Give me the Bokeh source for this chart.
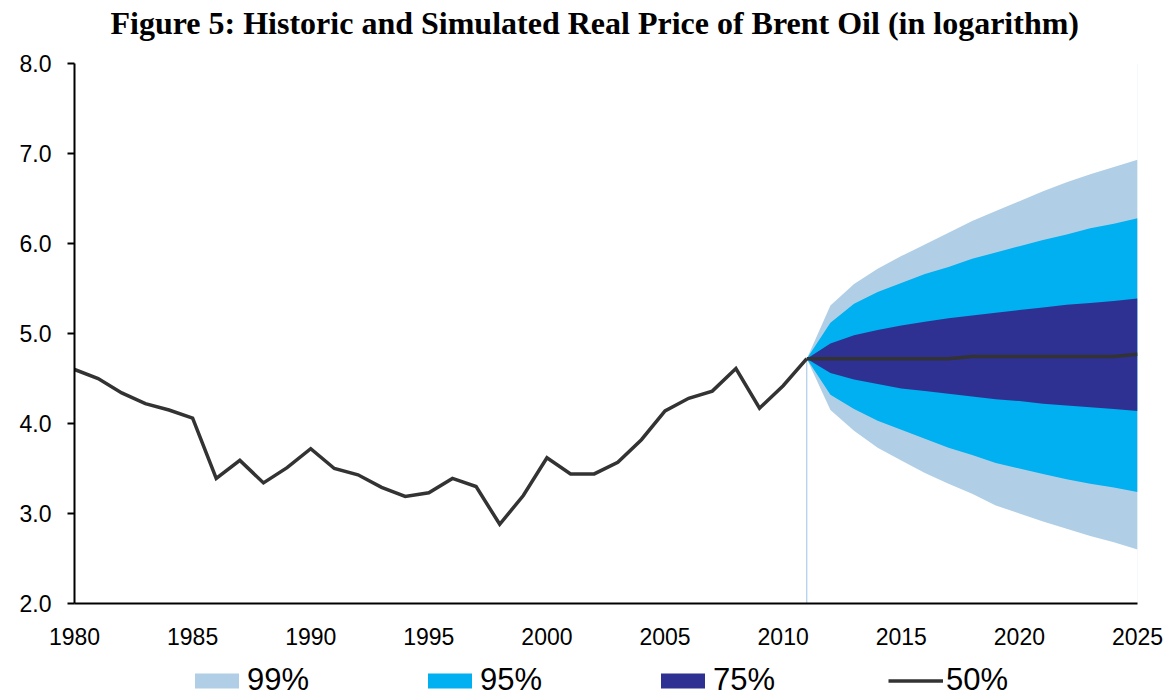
from bokeh.plotting import figure
from bokeh.layouts import column
from bokeh.models import Range1d, FixedTicker, Legend, LegendItem, NumeralTickFormatter, Label
from bokeh.embed import file_html
from bokeh.resources import INLINE

# ---- data ----
hist_years = [1980, 1981, 1982, 1983, 1984, 1985, 1986, 1987, 1988, 1989,
              1990, 1991, 1992, 1993, 1994, 1995, 1996, 1997, 1998, 1999,
              2000, 2001, 2002, 2003, 2004, 2005, 2006, 2007, 2008, 2009,
              2010, 2011]
hist_values = [4.60, 4.50, 4.34, 4.22, 4.15, 4.06, 3.39, 3.59, 3.34, 3.51,
               3.72, 3.50, 3.43, 3.29, 3.19, 3.23, 3.39, 3.30, 2.88, 3.20,
               3.62, 3.44, 3.44, 3.57, 3.82, 4.14, 4.28, 4.36, 4.61, 4.17,
               4.42, 4.72]

fc_years = [2011, 2012, 2013, 2014, 2015, 2016, 2017, 2018, 2019, 2020,
            2021, 2022, 2023, 2024, 2025]
median = [4.72, 4.72, 4.72, 4.72, 4.72, 4.72, 4.72, 4.745, 4.745, 4.745,
          4.745, 4.745, 4.745, 4.745, 4.77]
p99_hi = [4.72, 5.31, 5.55, 5.72, 5.86, 5.99, 6.12, 6.25, 6.36, 6.47, 6.58, 6.68, 6.77, 6.85, 6.93]
p95_hi = [4.72, 5.12, 5.33, 5.46, 5.56, 5.66, 5.74, 5.83, 5.90, 5.97, 6.04, 6.10, 6.17, 6.22, 6.28]
p75_hi = [4.72, 4.89, 4.98, 5.04, 5.09, 5.13, 5.17, 5.20, 5.23, 5.26, 5.29, 5.32, 5.34, 5.36, 5.39]
p75_lo = [4.72, 4.56, 4.49, 4.44, 4.39, 4.36, 4.33, 4.30, 4.27, 4.25, 4.22, 4.20, 4.18, 4.16, 4.14]
p95_lo = [4.72, 4.32, 4.16, 4.03, 3.93, 3.83, 3.73, 3.65, 3.56, 3.50, 3.44, 3.38, 3.33, 3.29, 3.24]
p99_lo = [4.72, 4.15, 3.92, 3.73, 3.59, 3.45, 3.33, 3.22, 3.09, 3.00, 2.91, 2.83, 2.75, 2.68, 2.60]

x_ticks = [1980, 1985, 1990, 1995, 2000, 2005, 2010, 2015, 2020, 2025]
y_ticks = [2, 3, 4, 5, 6, 7, 8]
legend_labels = ["99%", "95%", "75%", "50%"]
title_text = "Figure 5: Historic and Simulated Real Price of Brent Oil (in logarithm)"

C99 = "#B0CFE6"
C95 = "#00B0F0"
C75 = "#2E3192"
CMED = "#333333"
CVLINE = "#9DC3E6"
CEDGE = "#EDF3F9"

# ---- title strip ----
pt = figure(width=1166, height=48, output_backend="svg", toolbar_location=None,
            x_axis_type=None, y_axis_type=None, min_border=0,
            x_range=Range1d(0, 1), y_range=Range1d(0, 1))
pt.outline_line_color = None
pt.grid.visible = False
pt.add_layout(Label(x=36, y=26, x_units="screen", y_units="screen", text=title_text,
                    text_font="Liberation Serif", text_font_style="bold",
                    text_font_size="32px", text_color="black",
                    text_align="left", text_baseline="middle"))

# ---- main chart ----
p = figure(frame_width=1063, frame_height=540, output_backend="svg",
           toolbar_location=None, x_range=Range1d(1980, 2025), y_range=Range1d(2, 8),
           min_border_left=74, min_border_right=29, min_border_top=15, min_border_bottom=57)
p.outline_line_color = None
p.xgrid.visible = False
p.ygrid.visible = False

# faint right edge of the plot area
p.segment(x0=[x_ticks[-1]], y0=[y_ticks[0]], x1=[x_ticks[-1]], y1=[y_ticks[-1]],
          line_color=CEDGE, line_width=1)
p.varea(x=fc_years, y1=p99_lo, y2=p99_hi, fill_color=C99)
p.varea(x=fc_years, y1=p95_lo, y2=p95_hi, fill_color=C95)
p.varea(x=fc_years, y1=p75_lo, y2=p75_hi, fill_color=C75)
p.segment(x0=[fc_years[0]], y0=[y_ticks[0]], x1=[fc_years[0]], y1=[median[0]],
          line_color=CVLINE, line_width=1)
p.line(x=hist_years, y=hist_values, line_color=CMED, line_width=3.5, line_join="miter")
p.line(x=fc_years, y=median, line_color=CMED, line_width=3.5)

for ax in (p.xaxis[0], p.yaxis[0]):
    ax.axis_line_color = "black"
    ax.axis_line_width = 2
    ax.major_label_text_font = "Liberation Sans"
    ax.major_label_text_font_size = "23px"
    ax.major_label_text_color = "black"
    ax.minor_tick_line_color = None
    ax.major_tick_in = 0

p.xaxis[0].ticker = FixedTicker(ticks=x_ticks)
p.xaxis[0].major_tick_out = 0
p.xaxis[0].major_label_standoff = 24
p.yaxis[0].ticker = FixedTicker(ticks=y_ticks)
p.yaxis[0].formatter = NumeralTickFormatter(format="0.0")
p.yaxis[0].major_tick_out = 7
p.yaxis[0].major_tick_line_width = 2
p.yaxis[0].major_label_standoff = 16

# ---- legend strip ----
pl = figure(width=1166, height=40, output_backend="svg", toolbar_location=None,
            x_axis_type=None, y_axis_type=None, min_border=0,
            x_range=Range1d(0, 1), y_range=Range1d(0, 1))
pl.outline_line_color = None
pl.grid.visible = False
# legend-only renderers, placed outside the visible range
l99 = pl.varea(x=[2, 3], y1=[2, 2], y2=[3, 3], fill_color=C99)
l95 = pl.varea(x=[2, 3], y1=[2, 2], y2=[3, 3], fill_color=C95)
l75 = pl.varea(x=[2, 3], y1=[2, 2], y2=[3, 3], fill_color=C75)
lmed = pl.line(x=[2, 3], y=[2, 2], line_color=CMED, line_width=3.5)
legend = Legend(items=[LegendItem(label=legend_labels[0], renderers=[l99]),
                       LegendItem(label=legend_labels[1], renderers=[l95]),
                       LegendItem(label=legend_labels[2], renderers=[l75]),
                       LegendItem(label=legend_labels[3], renderers=[lmed])],
                orientation="horizontal", location="center_left", margin=115,
                glyph_width=55, glyph_height=19, label_standoff=3,
                label_width=175, spacing=0, padding=0,
                label_text_font="Liberation Sans", label_text_font_size="31px",
                label_text_color="black", border_line_color=None,
                background_fill_alpha=0)
pl.add_layout(legend, "center")

layout = column(pt, p, pl, spacing=0)
open("out.html", "w").write(file_html(layout, INLINE))
